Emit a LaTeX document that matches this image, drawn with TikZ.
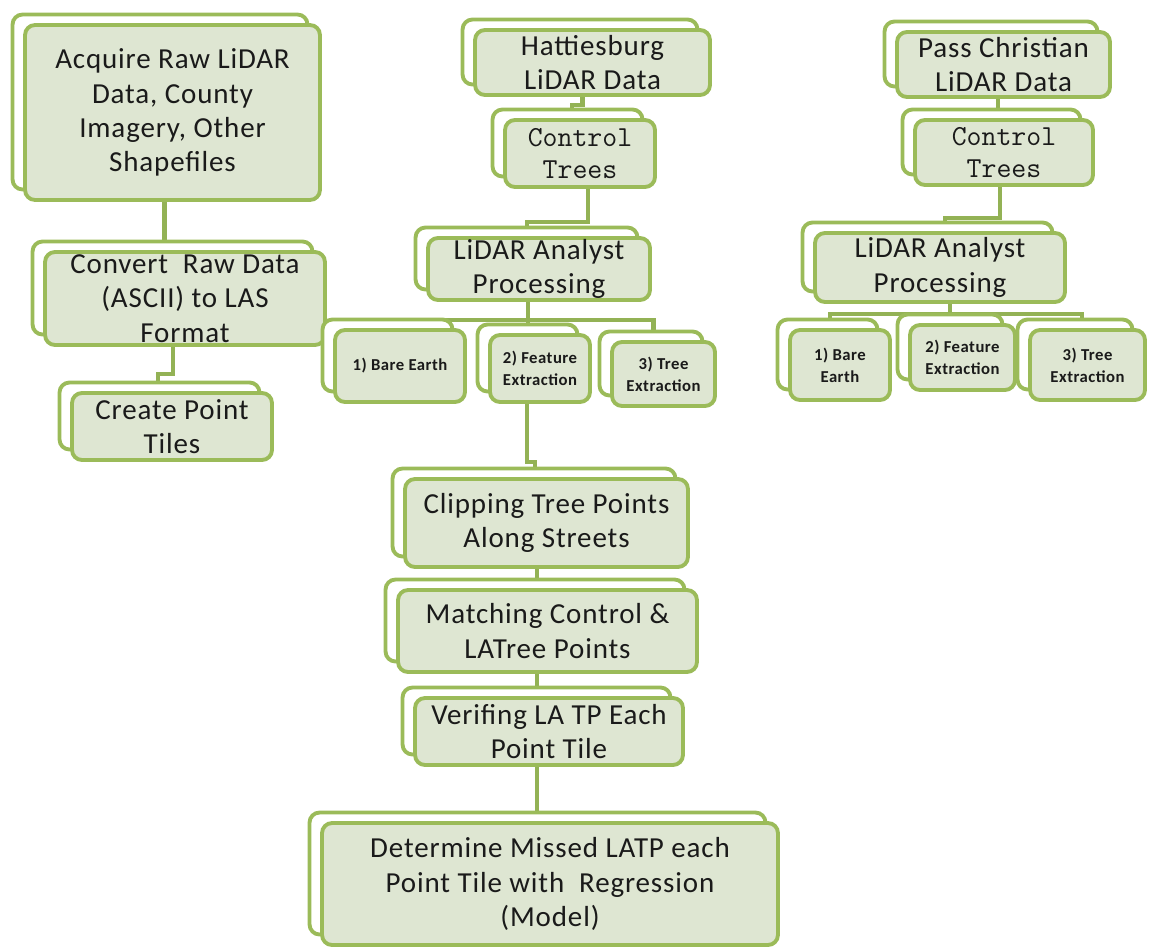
\documentclass[tikz,border=0pt]{standalone}
\usepackage{fontspec}
\setmainfont{Carlito}[LetterSpace=3]
\usetikzlibrary{shadows, backgrounds, calc}

\definecolor{leafgreen}{HTML}{9BBB59}
\definecolor{boxfill}{HTML}{DEE6D2}
\definecolor{inkgray}{HTML}{1A1A1A}

\tikzset{
  stage/.style={rectangle, rounded corners=0.2cm, draw=leafgreen, line width=2.2pt,
    fill=boxfill, inner sep=0pt, align=center, text=inkgray,
    font=\fontsize{16.5}{19.5}\selectfont,
    copy shadow={shadow xshift=-0.25cm, shadow yshift=0.21cm, opacity=1,
      fill=white, draw=leafgreen, line width=2.2pt}},
  ctrl/.style={stage, font=\fontsize{16.5}{18}\ttfamily},
  sub/.style={stage, font=\fontsize{9.5}{12.5}\selectfont\bfseries},
  link/.style={draw=leafgreen!95!black, line width=2.7pt}
}

\begin{document}
\begin{tikzpicture}[x=0.02cm, y=-0.02cm]

    \useasboundingbox (0,0) rectangle (1150,950);

    % left column
    \node[stage, minimum width=5.9cm, minimum height=3.5cm] (acq) at (172.5,112.5) {Acquire Raw LiDAR\\Data, County\\Imagery, Other\\Shapefiles};
    \node[stage, minimum width=5.6cm, minimum height=1.86cm] (conv) at (185,298.5) {Convert\ \ Raw Data\\(ASCII) to LAS\\Format};
    \node[stage, minimum width=4.0cm, minimum height=1.34cm] (tiles) at (172,426.5) {Create Point\\Tiles};

    % Hattiesburg
    \node[stage, minimum width=4.7cm, minimum height=1.3cm] (hat) at (592.5,62.5) {Hattiesburg\\LiDAR Data};
    \node[ctrl, minimum width=3.0cm, minimum height=1.34cm] (ctrlA) at (580,153.5) {Control\\Trees};
    \node[stage, minimum width=4.44cm, minimum height=1.24cm] (lapA) at (539,269) {LiDAR Analyst\\Processing};
    \node[sub, minimum width=2.6cm, minimum height=1.44cm] (bareA) at (400,366) {1) Bare Earth};
    \node[sub, minimum width=2.0cm, minimum height=1.34cm] (featA) at (540,368.5) {2) Feature\\Extraction};
    \node[sub, minimum width=2.06cm, minimum height=1.28cm] (treeA) at (663.5,374) {3) Tree\\Extraction};

    \node[stage, minimum width=5.66cm, minimum height=1.76cm] (clip) at (546.5,523) {Clipping Tree Points\\Along Streets};
    \node[stage, minimum width=5.98cm, minimum height=1.64cm] (match) at (547.5,631) {Matching Control \&\\LATree Points};
    \node[stage, minimum width=5.36cm, minimum height=1.34cm] (verif) at (549,731.5) {Verifing LA TP Each\\Point Tile};
    \node[stage, minimum width=9.12cm, minimum height=2.44cm] (det) at (550,884) {Determine Missed LATP each\\Point Tile with\ \ Regression\\(Model)};

    % Pass Christian
    \node[stage, minimum width=4.26cm, minimum height=1.3cm] (pass) at (1003.5,64.5) {Pass Christian\\LiDAR Data};
    \node[ctrl, minimum width=3.56cm, minimum height=1.3cm] (ctrlB) at (1004,152.5) {Control\\Trees};
    \node[stage, minimum width=5.0cm, minimum height=1.38cm] (lapB) at (940,267.5) {LiDAR Analyst\\Processing};
    \node[sub, minimum width=2.0cm, minimum height=1.4cm] (bareB) at (840,365) {1) Bare\\Earth};
    \node[sub, minimum width=2.1cm, minimum height=1.3cm] (featB) at (962.5,357.5) {2) Feature\\Extraction};
    \node[sub, minimum width=2.3cm, minimum height=1.4cm] (treeB) at (1087.5,365) {3) Tree\\Extraction};

    \begin{scope}[on background layer]
        \draw[link] ($(acq.south)+(-8,0)$) coordinate (a1) -- (a1 |- conv.north);
        \draw[link] ($(conv.south)+(-12,0)$) -- ++(0,27) -| ($(tiles.north)+(-14,0)$);

        \draw[link] ($(hat.south)+(-10,0)$) -- ++(0,8) -| ($(ctrlA.north)+(-8,0)$);
        \draw[link] ($(ctrlA.south)+(8,0)$) -- ++(0,33) -| ($(lapA.north)+(-12,0)$);
        \draw[link] ($(lapA.south)+(-11,0)$) -- ++(0,18) coordinate (barA);
        \foreach \c/\dx in {bareA/-10, featA/-12, treeA/-10}
        \draw[link] (barA) -| ($(\c.north)+(\dx,0)$);
        \draw[link] ($(featA.south)+(-13,0)$) -- ++(0,58) -| ($(clip.north)+(-11.5,0)$);
        \draw[link] ($(clip.south)+(-9.5,0)$) coordinate (c1) -- (c1 |- match.north);
        \draw[link] ($(match.south)+(-10.5,0)$) coordinate (m1) -- (m1 |- verif.north);
        \draw[link] ($(verif.south)+(-12,0)$) coordinate (v1) -- (v1 |- det.north);

        \draw[link] ($(pass.south)+(-5.5,0)$) coordinate (p1) -- (p1 |- ctrlB.north);
        \draw[link] ($(ctrlB.south)+(-4,0)$) -- ++(0,31) -| ($(lapB.north)+(5,0)$);
        \draw[link] ($(lapB.south)+(10,0)$) -- ++(0,10) coordinate (barB);
        \foreach \c/\dx in {bareB/-10, featB/-12.5, treeB/-5.5}
        \draw[link] (barB) -| ($(\c.north)+(\dx,0)$);
    \end{scope}
\end{tikzpicture}
\end{document}
